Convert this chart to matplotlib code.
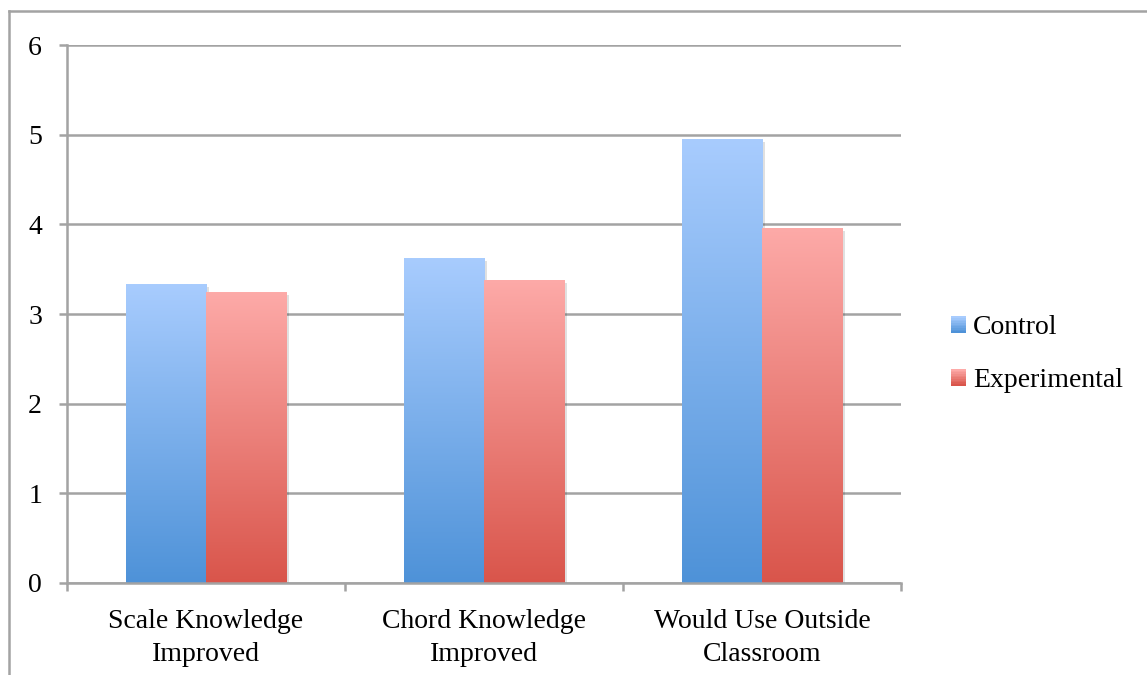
import numpy as np
import matplotlib
matplotlib.use("Agg")
import matplotlib.pyplot as plt
from matplotlib.colors import LinearSegmentedColormap
from matplotlib.patches import Rectangle
from matplotlib.lines import Line2D
from matplotlib.legend_handler import HandlerBase
import matplotlib.patheffects as pe

plt.rcParams['font.family'] = ['Liberation Serif', 'DejaVu Serif']

categories = ["Scale Knowledge\nImproved", "Chord Knowledge\nImproved", "Would Use Outside\nClassroom"]
control = [3.33, 3.62, 4.95]
experimental = [3.24, 3.38, 3.96]
series_names = ["Control", "Experimental"]
yticks = [0, 1, 2, 3, 4, 5, 6]

grey = "#a3a3a3"
blue_top, blue_bot = "#a8ccfe", "#4e92d8"
red_top, red_bot = "#fdaaa8", "#d9554b"
fs = 20

fig = plt.figure(figsize=(11.47, 6.75), dpi=100)
ax = fig.add_axes([0.0584, 0.1363, 0.7271, 0.797])

# outer frame (left and top edge only)
fig.add_artist(Line2D([0.0082, 0.0082], [0, 0.984], transform=fig.transFigure, color=grey, lw=1.8))
fig.add_artist(Line2D([0.0082, 1.0], [0.984, 0.984], transform=fig.transFigure, color=grey, lw=1.8))

x = np.arange(len(categories))
w = 0.288


def grad_bar(xc, h, top, bot):
    cmap = LinearSegmentedColormap.from_list("g", [bot, top])
    r = Rectangle((xc - w / 2, 0), w, h, facecolor=top, edgecolor="none", zorder=3,
                  path_effects=[pe.SimplePatchShadow(offset=(2, -2), shadow_rgbFace="#000000", alpha=0.12),
                                pe.Normal()])
    ax.add_patch(r)
    grad = np.linspace(0, 1, 256).reshape(-1, 1)
    im = ax.imshow(grad, cmap=cmap, origin="lower", aspect="auto",
                   extent=[xc - w / 2, xc + w / 2, 0, h], zorder=4, interpolation="bilinear")
    im.set_clip_path(r)


for i in range(len(categories)):
    grad_bar(x[i] - w / 2, control[i], blue_top, blue_bot)
    grad_bar(x[i] + w / 2, experimental[i], red_top, red_bot)

ax.set_xlim(-0.5, len(categories) - 0.5)
ax.set_ylim(0, 6)
ax.set_yticks(yticks)
ax.set_yticklabels([str(t) for t in yticks])
ax.yaxis.grid(True, color=grey, lw=1.8, zorder=0)
ax.set_axisbelow(True)

ax.set_xticks(x)
ax.set_xticklabels(categories, linespacing=1.4)
ax.set_xticks(np.arange(len(categories) + 1) - 0.5, minor=True)
ax.tick_params(axis="x", which="major", length=0, pad=19, labelsize=fs)
ax.tick_params(axis="x", which="minor", length=6, width=1.8, color=grey, direction="out")
ax.tick_params(axis="y", length=6, width=1.8, color=grey, pad=12, labelsize=fs)

for s in ["top", "right"]:
    ax.spines[s].set_visible(False)
for s in ["left", "bottom"]:
    ax.spines[s].set_color(grey)
    ax.spines[s].set_linewidth(1.8)
    ax.spines[s].set_zorder(5)


class GradSwatch(HandlerBase):
    # legend key filled with horizontal bands from light to dark
    def __init__(self, top, bot):
        super().__init__()
        self.top, self.bot = top, bot

    def create_artists(self, legend, orig_handle, xdescent, ydescent, width, height, fontsize, trans):
        cmap = LinearSegmentedColormap.from_list("g", [self.bot, self.top])
        n = 10
        arts = []
        for k in range(n):
            arts.append(Rectangle((-xdescent, -ydescent + height * k / n), width, height / n + 0.3,
                                  facecolor=cmap(k / (n - 1)), edgecolor="none", transform=trans))
        return arts


handles = [Rectangle((0, 0), 1, 1), Rectangle((0, 0), 1, 1)]
leg = fig.legend(handles, series_names, loc="center left", bbox_to_anchor=(0.807, 0.475),
                 frameon=False, fontsize=fs, handlelength=0.55, handleheight=0.55,
                 handletextpad=0.25, labelspacing=1.0,
                 handler_map={handles[0]: GradSwatch(blue_top, blue_bot),
                              handles[1]: GradSwatch(red_top, red_bot)})

fig.savefig("out.png", dpi=100)
